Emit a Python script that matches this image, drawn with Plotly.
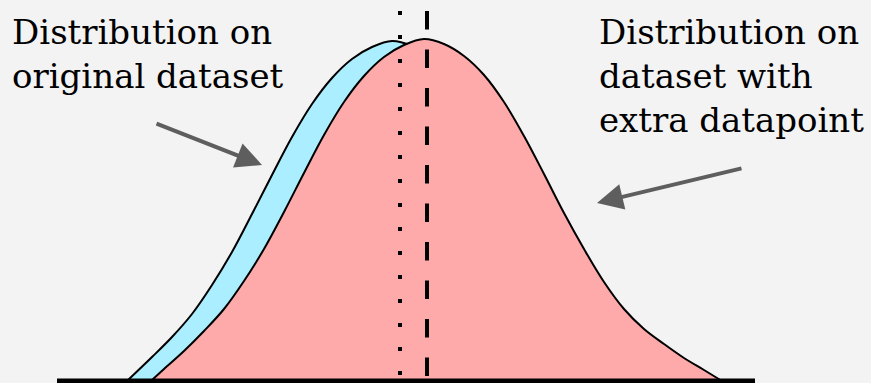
import plotly.graph_objects as go

# Density curve of the original dataset (x in standard units, y = density height)
orig_x = [-3.00, -2.75, -2.55, -2.35, -2.15, -1.95, -1.75, -1.55, -1.35,
          -1.15, -0.95, -0.75, -0.55, -0.35, -0.15, 0.05, 0.25, 0.45, 0.65,
          0.85, 1.05, 1.25, 1.45, 1.65, 1.85, 2.05, 2.25, 2.45, 2.63]
orig_y = [0.00, 0.24, 0.44, 0.67, 0.96, 1.29, 1.67, 2.06, 2.44,
          2.77, 3.03, 3.22, 3.34, 3.40, 3.35, 3.23, 3.04, 2.77, 2.44,
          2.05, 1.65, 1.28, 0.95, 0.67, 0.46, 0.30, 0.17, 0.07, 0.00]

# Density curve of the dataset with one extra datapoint
extra_x = [-2.76, -2.63, -2.43, -2.23, -2.03, -1.83, -1.63, -1.43, -1.23, -1.03,
           -0.83, -0.63, -0.43, -0.23, -0.03, 0.17, 0.37, 0.57, 0.77, 0.97,
           1.17, 1.37, 1.57, 1.77, 1.97, 2.17, 2.37, 2.57, 2.77, 2.95]
extra_y = [0.00, 0.12, 0.30, 0.50, 0.72, 1.00, 1.32, 1.69, 2.08, 2.46,
           2.79, 3.05, 3.24, 3.36, 3.42, 3.37, 3.25, 3.06, 2.79, 2.45,
           2.07, 1.68, 1.32, 0.99, 0.72, 0.52, 0.37, 0.23, 0.11, 0.00]

# Means of the two distributions and the axis extent
orig_mean = -0.27
extra_mean = 0.00
line_top = 3.70
line_bottom = 0.04
axis_x = [-3.70, 3.28]

BG = "#f3f3f3"
ARROW = "#5e5e5e"
FONT = "DejaVu Serif"

fig = go.Figure()

fig.add_trace(go.Scatter(
    x=orig_x, y=orig_y, mode="lines", fill="toself", fillcolor="#aaeeff",
    line=dict(color="black", width=2, shape="spline", smoothing=1),
    hoverinfo="skip", showlegend=False))

fig.add_trace(go.Scatter(
    x=extra_x, y=extra_y, mode="lines", fill="toself", fillcolor="#ffaaaa",
    line=dict(color="black", width=2, shape="spline", smoothing=1),
    hoverinfo="skip", showlegend=False))

# Mean markers: dotted for the original data, dashed for the extended data
fig.add_trace(go.Scatter(
    x=[orig_mean, orig_mean], y=[line_top, line_bottom], mode="lines",
    line=dict(color="black", width=4, dash="4px,20px"),
    hoverinfo="skip", showlegend=False))
fig.add_trace(go.Scatter(
    x=[extra_mean, extra_mean], y=[line_top, line_bottom], mode="lines",
    line=dict(color="black", width=4, dash="18.5px,20px"),
    hoverinfo="skip", showlegend=False))

# Horizontal axis line
fig.add_trace(go.Scatter(
    x=axis_x, y=[0, 0], mode="lines", line=dict(color="black", width=5),
    hoverinfo="skip", showlegend=False))

W, H = 871, 383


def px_x(p):
    return p / W


def px_y(p):
    return 1 - p / H


label_font = dict(family=FONT, size=34, color="black")

annotations = [
    dict(text="Distribution on<br>original dataset", xref="paper", yref="paper",
         x=px_x(10), y=px_y(10), xanchor="left", yanchor="top", align="left",
         showarrow=False, font=label_font),
    dict(text="Distribution on<br>dataset with<br>extra datapoint", xref="paper",
         yref="paper", x=px_x(597), y=px_y(10), xanchor="left", yanchor="top",
         align="left", showarrow=False, font=label_font),
    # Arrows pointing at the two curves
    dict(text="", x=-1.65, y=2.16, xref="x", yref="y",
         ax=-2.72, ay=2.58, axref="x", ayref="y", showarrow=True,
         arrowhead=2, arrowsize=1.3, arrowwidth=4, arrowcolor=ARROW, standoff=0),
    dict(text="", x=1.70, y=1.78, xref="x", yref="y",
         ax=3.16, ay=2.13, axref="x", ayref="y", showarrow=True,
         arrowhead=2, arrowsize=1.3, arrowwidth=4, arrowcolor=ARROW, standoff=0),
]

fig.update_layout(
    width=W, height=H, margin=dict(l=0, r=0, t=0, b=0),
    paper_bgcolor=BG, plot_bgcolor=BG,
    xaxis=dict(range=[-4.27, 4.44], visible=False, fixedrange=True),
    yaxis=dict(range=[-0.02, 3.81], visible=False, fixedrange=True),
    annotations=annotations,
)

fig.write_html("out.html", config={"displayModeBar": False})
